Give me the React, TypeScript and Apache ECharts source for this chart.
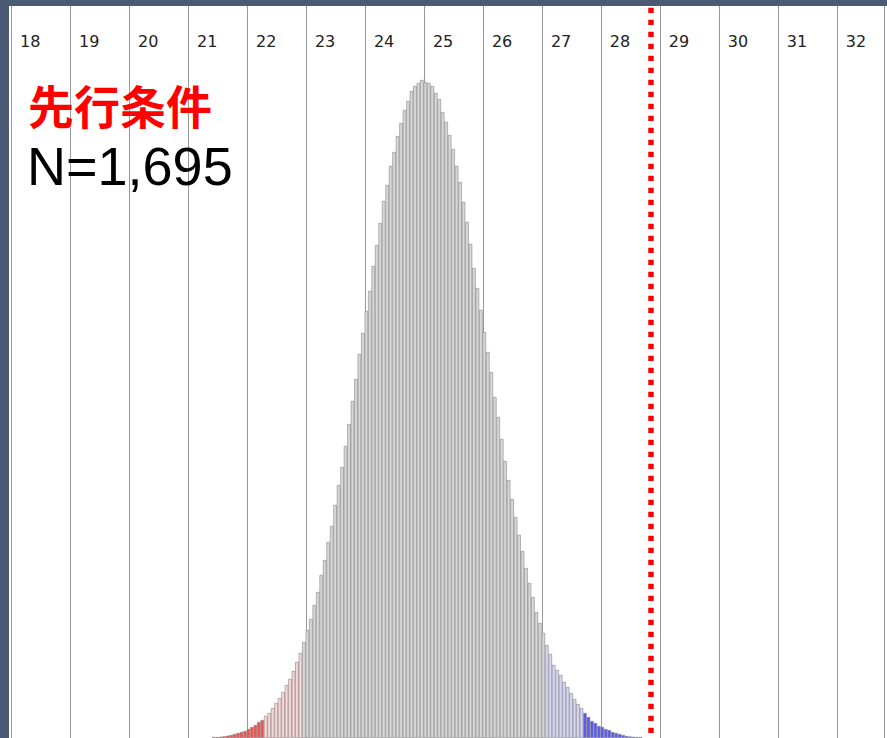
import React, { useEffect, useRef } from "react";
import * as echarts from "echarts";

// Tick labels along the top axis
const tickValues = [18, 19, 20, 21, 22, 23, 24, 25, 26, 27, 28, 29, 30, 31, 32];

// Histogram bins
const binStart = 21.407;
const binWidth = 1 / 17;
const counts = [
  1, 1, 1.3, 1.7, 2.3, 3, 4, 5, 6, 7, 9, 11, 13, 16, 18, 22, 25, 30, 35, 40,
  46, 53, 59, 67, 76, 85, 96, 108, 119, 133, 146, 163, 178, 196, 212, 233, 253, 271, 292, 314,
  337, 359, 384, 405, 427, 447, 472, 493, 515, 537, 553, 572, 586, 602, 615, 628, 637, 647, 652, 655,
  658, 656, 655, 652, 645, 639, 626, 616, 603, 589, 572, 556, 536, 516, 494, 470, 450, 428, 406, 386,
  366, 341, 321, 299, 277, 258, 239, 221, 203, 187, 170, 155, 141, 126, 115, 105, 93, 84, 73, 68,
  63, 56, 51, 45, 39, 34, 30, 25, 21, 17, 15, 12, 11, 9, 8, 6, 5, 4, 3, 2,
  1.5, 1.2, 1, 1,
];
// Colour bands by bin index: [firstIndex, colour]
const bandStarts = [0, 15, 26, 96, 107];
const bandColors = ["#f25454", "#fad6d6", "#d8d8d8", "#d6d6f8", "#5b5bee"];

// Reference marker
const markerValue = 28.85;
const titleText = "先行条件";
const countText = "N=1,695";

const yMax = 732;

function colorFor(i: number): string {
  let c = bandColors[0];
  for (let k = 0; k < bandStarts.length; k++) {
    if (i >= bandStarts[k]) c = bandColors[k];
  }
  return c;
}

export default function App() {
  const ref = useRef<HTMLDivElement>(null);
  useEffect(() => {
    if (!ref.current) return;
    const chart = echarts.init(ref.current, undefined, { renderer: "svg" });
    const data = counts.map((h, i) => ({
      value: [binStart + (i + 0.5) * binWidth, h],
      itemStyle: { color: colorFor(i) },
    }));
    chart.setOption({
      animation: false,
      backgroundColor: "#4a5a73",
      grid: { left: 11, right: 0, top: 6, bottom: 0, containLabel: false },
      graphic: [
        {
          type: "rect",
          z: -10,
          silent: true,
          shape: { x: 9, y: 6, width: 878, height: 732 },
          style: { fill: "#ffffff" },
        },
        {
          type: "text",
          left: 28,
          top: 81,
          z: 100,
          style: {
            text: titleText,
            fill: "#ff0000",
            font: "bold 46px 'Noto Sans CJK JP'",
            lineHeight: 46,
          },
        },
        {
          type: "text",
          left: 27,
          top: 139,
          z: 100,
          style: {
            text: countText,
            fill: "#000000",
            font: "54px 'Liberation Sans'",
            lineHeight: 54,
          },
        },
      ],
      xAxis: {
        type: "value",
        position: "top",
        min: 18,
        max: 32.8,
        interval: 1,
        axisLine: { show: false },
        axisTick: { show: false },
        splitLine: { show: true, lineStyle: { color: "#999999", width: 1 } },
        axisLabel: {
          inside: true,
          margin: 35,
          align: "left",
          verticalAlign: "middle",
          padding: [0, 0, 0, 9],
          color: "#222222",
          fontFamily: "DejaVu Sans",
          fontSize: 16,
          formatter: (v: number) => (tickValues.includes(v) ? String(v) : ""),
        },
      },
      yAxis: {
        type: "value",
        min: 0,
        max: yMax,
        show: false,
        splitLine: { show: false },
      },
      series: [
        {
          type: "bar",
          data,
          barWidth: binWidth * 59.19,
          itemStyle: { borderColor: "#858585", borderWidth: 0.6 },
          markLine: {
            silent: true,
            symbol: "none",
            label: { show: false },
            lineStyle: {
              color: "#ff0000",
              width: 5.5,
              type: [5.3, 6.7],
              dashOffset: 6.7,
            },
            data: [{ xAxis: markerValue }],
          },
        },
      ],
    });
    return () => chart.dispose();
  }, []);
  return (
    <div style={{ position: "absolute", left: 0, top: 0 }}>
      <div ref={ref} style={{ width: 887, height: 738 }} />
    </div>
  );
}
